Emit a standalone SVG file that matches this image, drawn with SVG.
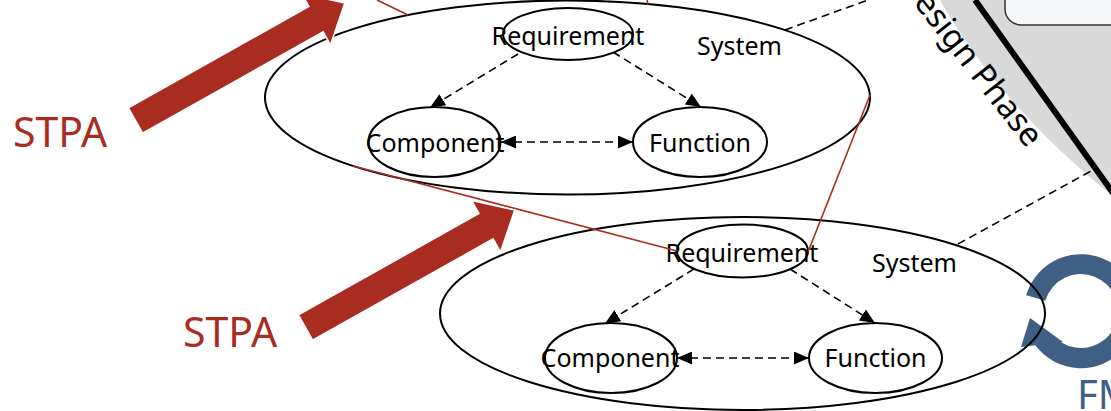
<svg xmlns="http://www.w3.org/2000/svg" width="1111" height="411" viewBox="0 0 1111 411">
<style>
  .big{fill:none;stroke:#000;stroke-width:2}
  .small{fill:#fff;stroke:#000;stroke-width:2}
  .lbl{font-family:"Noto Sans","Open Sans","DejaVu Sans",sans-serif;font-size:25px;fill:#000;text-anchor:middle}
  .sys{font-family:"Noto Sans","Open Sans","DejaVu Sans",sans-serif;font-size:25px;fill:#000}
  .dash{fill:none;stroke:#000;stroke-width:1.6;stroke-dasharray:8 5}
  .red{fill:none;stroke:#a82c1f;stroke-width:1.6}
  .stpa{font-family:"Noto Sans","Open Sans","DejaVu Sans",sans-serif;font-size:41px;fill:#a82c1f}
  .bigarrow{fill:#a82c1f;stroke:#fff;stroke-width:1.5}
</style>
<defs>
  <marker id="ah" viewBox="0 0 15 13" refX="15" refY="6.5" markerWidth="15" markerHeight="13" markerUnits="userSpaceOnUse" orient="auto-start-reverse">
    <path d="M0,0 L15,6.5 L0,13 Z" fill="#000"/>
  </marker>
</defs>
<rect width="1111" height="411" fill="#fff"/>

<g id="design-phase">
  <path d="M940,0 Q1000,105 1111,195 L1111,0 Z" fill="#d9d9d9"/>
  <line x1="975" y1="0" x2="1113" y2="193" stroke="#000" stroke-width="6"/>
  <rect x="1005" y="-30" width="150" height="55" rx="16" fill="#f6f7f9" stroke="#333" stroke-width="1.5"/>
  <text transform="translate(1027,149) rotate(52)" text-anchor="end" font-family="Noto Sans, Open Sans, sans-serif" font-size="33" fill="#000">Design Phase</text>
</g>

<g id="fm">
  <path d="M1026.2,295.3 A57,57 0 1 1 1035.3,345.3 L1021,347 L1030,318 L1063,342 L1061,342.2 A37,37 0 1 0 1045.4,300.8 Z" fill="#3f5f85"/>
  <text x="1077" y="409" font-family="Noto Sans, Open Sans, sans-serif" font-size="40" fill="#3f5f85">FM</text>
</g>

<g id="system-upper">
  <ellipse class="big" cx="567.5" cy="97.5" rx="302.5" ry="97"/>
  <text class="sys" x="697" y="55">System</text>
</g>
<g id="system-lower">
  <ellipse class="big" cx="742.5" cy="313.5" rx="302.5" ry="96.5"/>
  <text class="sys" x="872" y="272">System</text>
</g>

<g id="connectors">
  <line class="dash" x1="785" y1="30" x2="868" y2="0"/>
  <line class="dash" x1="958" y1="244" x2="1093" y2="170"/>
  <line class="dash" x1="518" y1="54" x2="430" y2="107.5" marker-end="url(#ah)"/>
  <line class="dash" x1="613" y1="52" x2="701" y2="107" marker-end="url(#ah)"/>
  <line class="dash" x1="501" y1="142" x2="633" y2="142" marker-start="url(#ah)" marker-end="url(#ah)"/>
  <line class="dash" x1="694" y1="269" x2="605" y2="323.5" marker-end="url(#ah)"/>
  <line class="dash" x1="790" y1="269" x2="875" y2="323" marker-end="url(#ah)"/>
  <line class="dash" x1="677" y1="358" x2="809" y2="358" marker-start="url(#ah)" marker-end="url(#ah)"/>
</g>

<g id="req-upper">
  <ellipse class="small" cx="568" cy="34" rx="65" ry="26"/>
  <text class="lbl" x="568" y="45">Requirement</text>
</g>
<g id="comp-upper">
  <ellipse class="small" cx="434.5" cy="142" rx="66" ry="35"/>
  <text class="lbl" x="435" y="152">Component</text>
</g>
<g id="func-upper">
  <ellipse class="small" cx="700" cy="142" rx="67" ry="35"/>
  <text class="lbl" x="700" y="152">Function</text>
</g>
<g id="req-lower">
  <ellipse class="small" cx="742.5" cy="251" rx="65.5" ry="26.5"/>
  <text class="lbl" x="742" y="262">Requirement</text>
</g>
<g id="comp-lower">
  <ellipse class="small" cx="611" cy="358" rx="66" ry="35"/>
  <text class="lbl" x="610" y="367">Component</text>
</g>
<g id="func-lower">
  <ellipse class="small" cx="875.5" cy="358" rx="66.5" ry="35"/>
  <text class="lbl" x="875.5" y="367">Function</text>
</g>

<g id="trace-lines">
  <line class="red" x1="377" y1="0" x2="408" y2="15"/>
  <line class="red" x1="647" y1="0" x2="648" y2="4.5"/>
  <line class="red" x1="353" y1="166" x2="677" y2="251"/>
  <line class="red" x1="870" y1="95" x2="808" y2="252"/>
</g>

<g id="stpa-upper">
  <polygon class="bigarrow" transform="translate(135.5,120.5) rotate(-29.3)" points="0,-14.5 207,-14.5 207,-29.5 240,0 207,29.5 207,14.5 0,14.5"/>
  <text class="stpa" x="13" y="147">STPA</text>
</g>
<g id="stpa-lower">
  <polygon class="bigarrow" transform="translate(305.5,327.5) rotate(-29.3)" points="0,-14.5 207,-14.5 207,-29.5 240,0 207,29.5 207,14.5 0,14.5"/>
  <text class="stpa" x="183" y="347">STPA</text>
</g>
</svg>
